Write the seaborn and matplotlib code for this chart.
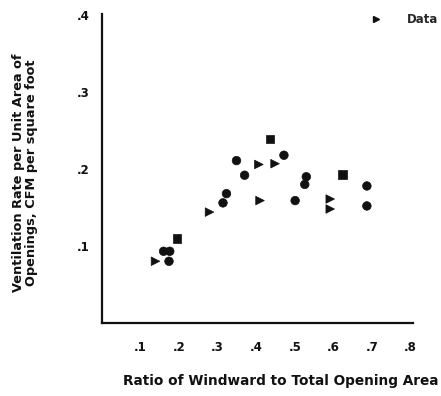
import matplotlib
matplotlib.use("Agg")
import matplotlib.pyplot as plt
from matplotlib.lines import Line2D
import seaborn as sns
import pandas as pd

ratio = [0.436, 0.472, 0.349, 0.407, 0.449, 0.370, 0.530, 0.526, 0.624, 0.687,
         0.687, 0.592, 0.592, 0.501, 0.410, 0.323, 0.314, 0.279, 0.195, 0.160,
         0.176, 0.174, 0.139]
rate = [0.239, 0.218, 0.211, 0.206, 0.207, 0.192, 0.190, 0.180, 0.193, 0.178,
        0.152, 0.161, 0.148, 0.159, 0.159, 0.168, 0.156, 0.144, 0.110, 0.093,
        0.093, 0.080, 0.080]
shape = ["sq", "ci", "ci", "tr", "tr", "ci", "ci", "ci", "sq", "ci",
         "ci", "tr", "tr", "ci", "tr", "ci", "ci", "tr", "sq", "ci",
         "ci", "ci", "tr"]
x_ticks = [0.1, 0.2, 0.3, 0.4, 0.5, 0.6, 0.7, 0.8]
x_tick_labels = [".1", ".2", ".3", ".4", ".5", ".6", ".7", ".8"]
y_ticks = [0.1, 0.2, 0.3, 0.4]
y_tick_labels = [".1", ".2", ".3", ".4"]

df = pd.DataFrame({"ratio": ratio, "rate": rate, "shape": shape})

sns.set_style("white")
plt.rcParams["font.family"] = ["DejaVu Sans"]
plt.rcParams["font.weight"] = "bold"

fig = plt.figure(figsize=(4.41, 3.96), dpi=100)
ax = fig.add_axes([0.231, 0.185, 0.705, 0.78])

sns.scatterplot(data=df, x="ratio", y="rate", style="shape",
                markers={"sq": "s", "ci": "o", "tr": ">"},
                color="#111111", s=38, edgecolor="#111111", linewidth=0.5,
                legend=False, ax=ax)

ax.set_xlim(0, 0.806)
ax.set_ylim(0, 0.402)
ax.set_xticks(x_ticks)
ax.set_xticklabels(x_tick_labels)
ax.set_yticks(y_ticks)
ax.set_yticklabels(y_tick_labels)
ax.tick_params(axis="both", direction="out", length=3, width=1.2,
               labelsize=8.5, pad=10, color="#111111", labelcolor="#111111")
ax.tick_params(axis="y", pad=6)

for side in ["top", "right"]:
    ax.spines[side].set_visible(False)
for side in ["left", "bottom"]:
    ax.spines[side].set_color("#111111")
    ax.spines[side].set_linewidth(1.6)

ax.set_xlabel("Ratio of Windward to Total Opening Area", fontsize=9.8,
              fontweight="bold", color="#111111")
ax.xaxis.set_label_coords(0.575, -0.165)
ax.set_ylabel("Ventilation Rate per Unit Area of\nOpenings, CFM per square foot",
              fontsize=9.3, fontweight="bold", color="#111111", linespacing=1.0)
ax.yaxis.set_label_coords(-0.205, 0.485)

handle = Line2D([], [], marker=">", linestyle="none", markersize=5,
                markerfacecolor="#111111", markeredgecolor="#111111")
ax.legend([handle], ["Data"], loc="upper right", bbox_to_anchor=(1.108, 1.03),
          frameon=False, fontsize=8.5, handletextpad=1.8, borderpad=0.2,
          handlelength=1.6)

fig.savefig("out.png", dpi=100)
